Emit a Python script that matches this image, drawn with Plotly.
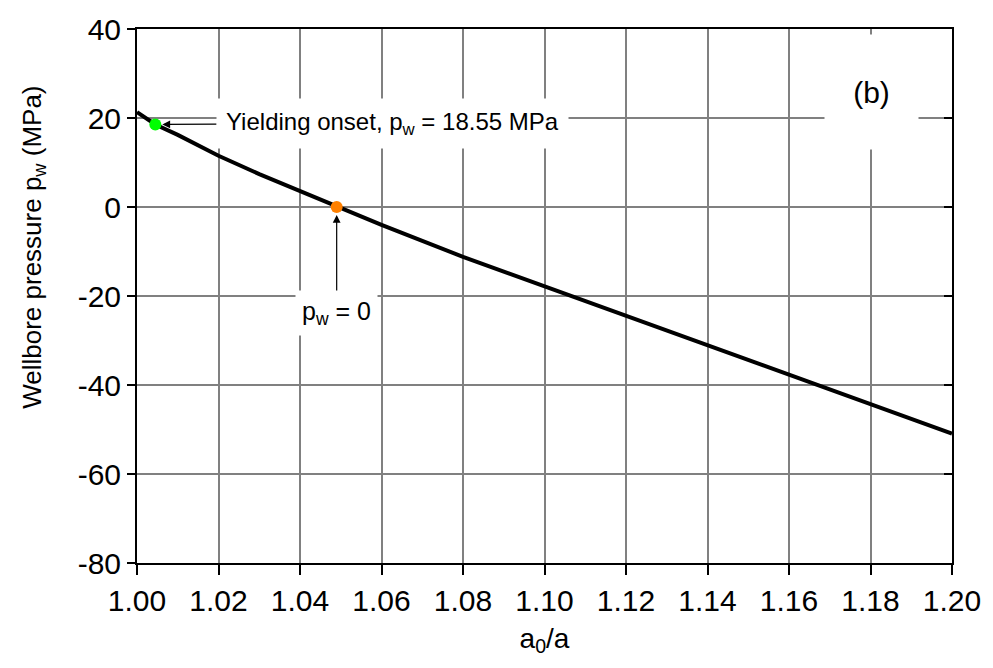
import plotly.graph_objects as go

# Data
a_ratio = [1.000, 1.0045, 1.01, 1.02, 1.03, 1.04, 1.049, 1.06, 1.08, 1.10, 1.12, 1.14, 1.16, 1.18, 1.20]
p_w = [21.3, 18.55, 16.2, 11.5, 7.4, 3.6, 0.0, -4.0, -11.2, -17.8, -24.5, -31.1, -37.8, -44.3, -50.9]

yield_x, yield_y = [1.0045], [18.55]
zero_x, zero_y = [1.049], [0.0]

x_ticks = [1.00, 1.02, 1.04, 1.06, 1.08, 1.10, 1.12, 1.14, 1.16, 1.18, 1.20]
x_ticktext = ["1.00", "1.02", "1.04", "1.06", "1.08", "1.10", "1.12", "1.14", "1.16", "1.18", "1.20"]
y_ticks = [-80, -60, -40, -20, 0, 20, 40]
y_ticktext = ["-80", "-60", "-40", "-20", "0", "20", "40"]

FONT = "Liberation Sans, Arial, sans-serif"

fig = go.Figure()
fig.add_trace(go.Scatter(x=a_ratio, y=p_w, mode="lines",
                         line=dict(color="black", width=4), showlegend=False))
fig.add_trace(go.Scatter(x=yield_x, y=yield_y, mode="markers",
                         marker=dict(color="#00ff00", size=12), showlegend=False))
fig.add_trace(go.Scatter(x=zero_x, y=zero_y, mode="markers",
                         marker=dict(color="#ff8000", size=12), showlegend=False))

fig.add_annotation(x=yield_x[0], y=yield_y[0], xref="x", yref="y",
                   text="Yielding onset, p<sub>w</sub> = 18.55 MPa",
                   showarrow=True, ax=237, ay=-1, axref="pixel", ayref="pixel",
                   arrowhead=2, arrowsize=1.3, arrowwidth=1.2, arrowcolor="black",
                   standoff=7, bgcolor="white", borderpad=9,
                   font=dict(family=FONT, size=24, color="black"))
fig.add_annotation(x=zero_x[0], y=zero_y[0], xref="x", yref="y",
                   text="p<sub>w</sub> = 0",
                   showarrow=True, ax=0, ay=106,
                   arrowhead=2, arrowsize=1.3, arrowwidth=1.2, arrowcolor="black",
                   standoff=8, bgcolor="white", borderpad=6,
                   font=dict(family=FONT, size=25, color="black"))
fig.add_annotation(x=0.901, y=0.882, xref="paper", yref="paper",
                   xanchor="center", yanchor="middle",
                   text="(b)", showarrow=False, bgcolor="white",
                   width=93, height=114, valign="middle", borderpad=0,
                   font=dict(family=FONT, size=30, color="black"))
# y-axis title (placed as rotated text, slightly above the plot centre as in the reference)
fig.add_annotation(x=-0.128, y=0.5915, xref="paper", yref="paper",
                   xanchor="center", yanchor="middle", textangle=-90,
                   text="Wellbore pressure p<sub>w</sub> (MPa)", showarrow=False,
                   font=dict(family=FONT, size=26, color="black"))

fig.update_layout(
    width=993, height=668,
    margin=dict(l=137, r=36, t=22, b=105),
    paper_bgcolor="white", plot_bgcolor="white",
    font=dict(family=FONT, color="black"),
    xaxis=dict(range=[1.0, 1.2], tickvals=x_ticks, ticktext=x_ticktext,
               showgrid=True, gridcolor="#808080", gridwidth=1.5,
               showline=True, linecolor="black", linewidth=2, mirror=True,
               ticks="outside", ticklen=10, tickwidth=2, tickcolor="black",
               tickfont=dict(size=30), zeroline=False,
               title=dict(text="a<sub>0</sub>/a", font=dict(size=28), standoff=12)),
    yaxis=dict(range=[-80, 40], tickvals=y_ticks, ticktext=y_ticktext,
               showgrid=True, gridcolor="#808080", gridwidth=1.5,
               showline=True, linecolor="black", linewidth=2, mirror=True,
               ticks="outside", ticklen=8, tickwidth=2, tickcolor="black",
               tickfont=dict(size=30), zeroline=False),
    yaxis2=dict(range=[-80, 40], tickvals=y_ticks, overlaying="y", side="right",
                showgrid=False, showticklabels=False, zeroline=False,
                ticks="inside", ticklen=8, tickwidth=2, tickcolor="black",
                showline=False),
)
fig.add_trace(go.Scatter(x=[1.1], y=[0], yaxis="y2", mode="markers",
                         marker=dict(opacity=0), showlegend=False, hoverinfo="skip"))

fig.write_html("out.html")
